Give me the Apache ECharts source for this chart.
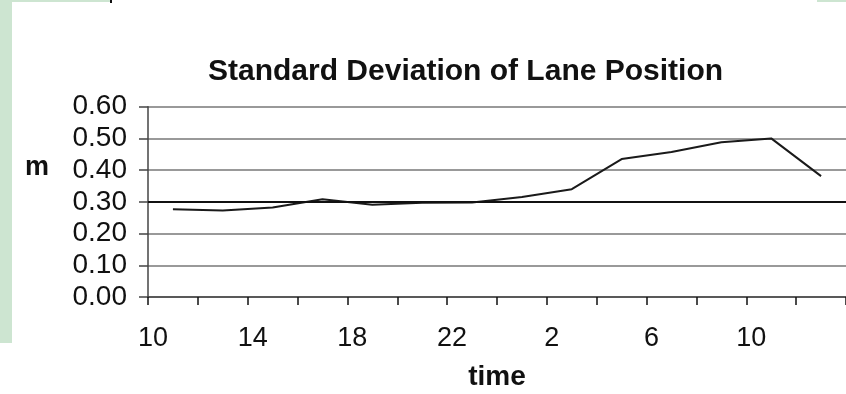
<!DOCTYPE html>
<html>
<head>
<meta charset="utf-8">
<script src="https://cdn.jsdelivr.net/npm/echarts@6/dist/echarts.min.js"></script>
<style>
  html, body { margin: 0; padding: 0; background: #fff; }
  #chart { width: 846px; height: 394px; }
</style>
</head>
<body>
<div id="chart"></div>
<script>
// 时间（每2小时一个点）
const hours = ['10', '12', '14', '16', '18', '20', '22', '0', '2', '4', '6', '8', '10', '12']
// 车道位置标准差 (m)
const sdlp = [0.277, 0.273, 0.282, 0.308, 0.291, 0.297, 0.298, 0.315, 0.34, 0.435, 0.457, 0.488, 0.50, 0.381]
const yTicks = [0, 0.1, 0.2, 0.3, 0.4, 0.5, 0.6]
const threshold = 0.30

const chart = echarts.init(document.getElementById('chart'))

const option = {
  animation: false,
  backgroundColor: '#fff',
  title: {
    text: 'Standard Deviation of Lane Position',
    left: 203,
    top: 52,
    textStyle: {
      fontFamily: 'Liberation Sans',
      fontSize: 30,
      fontWeight: 'bold',
      color: '#111'
    }
  },
  graphic: [
    { type: 'rect', left: 0, top: 0, shape: { width: 12, height: 343 }, style: { fill: '#cde5d1' } },
    { type: 'rect', left: 0, top: 0, shape: { width: 110, height: 2 }, style: { fill: '#cde5d1' } },
    { type: 'rect', left: 110, top: 0, shape: { width: 2, height: 3 }, style: { fill: '#111' } },
    { type: 'rect', left: 817, top: 0, shape: { width: 29, height: 2 }, style: { fill: '#cde5d1' } },
    {
      type: 'text',
      left: 25,
      top: 154,
      style: {
        text: 'm',
        font: 'bold 27px "Liberation Sans"',
        fill: '#111'
      }
    }
  ],
  grid: {
    left: 148,
    right: -2,
    top: 106.7,
    bottom: 97
  },
  xAxis: {
    type: 'category',
    data: hours,
    boundaryGap: true,
    name: 'time',
    nameLocation: 'middle',
    nameGap: 66,
    nameTextStyle: {
      fontFamily: 'Liberation Sans',
      fontSize: 28,
      fontWeight: 'bold',
      color: '#111'
    },
    axisLine: { lineStyle: { color: '#444', width: 1.5 } },
    axisTick: { show: true, length: 8, interval: 0, lineStyle: { color: '#111', width: 1.5 } },
    axisLabel: {
      interval: 1,
      margin: 28,
      padding: [0, 40, 0, 0],
      fontFamily: 'Liberation Sans',
      fontSize: 27,
      color: '#111'
    },
    splitLine: { show: false }
  },
  yAxis: {
    type: 'value',
    min: yTicks[0],
    max: yTicks[yTicks.length - 1],
    interval: 0.1,
    axisLine: { show: true, lineStyle: { color: '#444', width: 1.5 } },
    axisTick: { show: true, length: 9, lineStyle: { color: '#444', width: 1.5 } },
    axisLabel: {
      margin: 21,
      formatter: v => v.toFixed(2),
      fontFamily: 'Liberation Sans',
      fontSize: 28,
      color: '#111'
    },
    splitLine: { show: true, lineStyle: { color: '#999', width: 2 } }
  },
  series: [
    {
      name: 'SDLP',
      type: 'line',
      data: sdlp,
      symbol: 'none',
      lineStyle: { color: '#1a1a1a', width: 2 },
      markLine: {
        silent: true,
        symbol: 'none',
        label: { show: false },
        lineStyle: { color: '#111', width: 1.8, type: 'solid' },
        data: [{ yAxis: threshold }]
      }
    }
  ]
}

chart.setOption(option)
</script>
</body>
</html>
